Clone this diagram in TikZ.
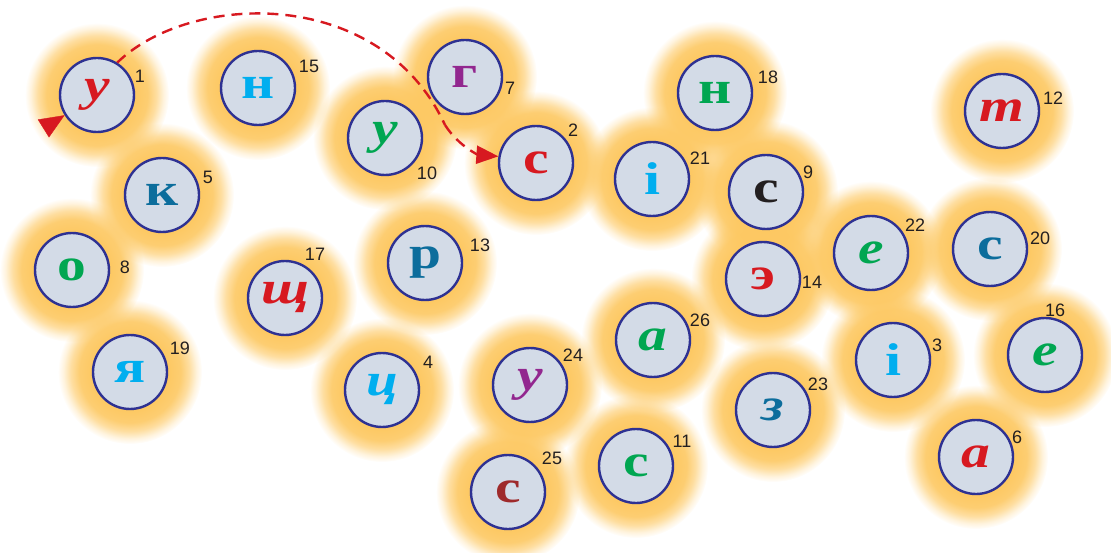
\documentclass[tikz,border=0pt]{standalone}
\usepackage{fontspec}
\setmainfont{Liberation Serif}
\setsansfont{Liberation Sans}
\newfontfamily\letterfont{Liberation Serif}[FakeStretch=1.25]
\usetikzlibrary{arrows.meta,fadings,calc}
\definecolor{lred}{HTML}{D71920}
\definecolor{lcyan}{HTML}{00AEEF}
\definecolor{lpurple}{HTML}{92278F}
\definecolor{lgreen}{HTML}{00A651}
\definecolor{lteal}{HTML}{0C6D9C}
\definecolor{lblack}{HTML}{231F20}
\definecolor{lmaroon}{HTML}{9E2A2B}
\definecolor{glowc}{HTML}{FDC862}
\definecolor{ballfill}{HTML}{D3DBE7}
\definecolor{ballline}{HTML}{2E3192}
\pgfdeclareradialshading{glowsh}{\pgfpointorigin}{color(0bp)=(white); color(13bp)=(white); color(17.5bp)=(white!90!black); color(20.5bp)=(white!60!black); color(23bp)=(white!22!black); color(25bp)=(black); color(50bp)=(black)}
\pgfdeclarefading{glowfade}{\pgfuseshading{glowsh}}
\tikzset{
  ball/.style={circle, minimum size=74pt, inner sep=0pt, fill=ballfill, draw=ballline, line width=2.4pt},
  letup/.style={font=\letterfont\fontsize{46}{46}\selectfont\bfseries},
  letit/.style={font=\letterfont\fontsize{46}{46}\selectfont\bfseries\itshape},
  numlab/.style={font=\sffamily\fontsize{18}{18}\selectfont, text=lblack, inner sep=0pt},
  route/.style={draw=lred, line width=2.4pt, dash pattern=on 11pt off 7pt},
}
\begin{document}
\begin{tikzpicture}[x=1pt,y=-1pt]
\useasboundingbox (0,0) rectangle (1111,553);
\def\balls{1/97/95/140/76/у/lred/letit,
15/258/88/309/66/н/lcyan/letup,
7/465/77/510/88/г/lpurple/letup,
10/385/138/427/173/у/lgreen/letit,
2/536/163/573/130/с/lred/letup,
18/715/93/768/77/н/lgreen/letup,
21/652/179/700/158/і/lcyan/letup,
9/766/192/808/172/с/lblack/letup,
12/1002/111/1053/98/т/lred/letit,
5/162/195/208/177/к/lteal/letup,
8/72/270/125/267/о/lgreen/letup,
22/871/253/915/225/е/lgreen/letit,
20/990/249/1040/238/с/lteal/letup,
14/763/279/812/282/э/lred/letup,
17/285/298/315/254/щ/lred/letit,
13/425/263/480/245/р/lteal/letup,
26/653/340/700/320/а/lgreen/letit,
16/1045/355/1055/310/е/lgreen/letit,
3/893/360/937/345/і/lcyan/letup,
19/130/372/180/348/я/lcyan/letup,
4/382/390/428/362/ц/lcyan/letit,
24/530/385/573/355/у/lpurple/letit,
23/773/410/818/384/з/lteal/letit,
6/976/457/1017/437/а/lred/letit,
25/508/492/552/458/с/lmaroon/letup,
11/636/466/682/441/с/lgreen/letup}
\foreach \n/\x/\y/\lx/\ly/\t/\c/\f in \balls {
  \fill[glowc, path fading=glowfade] (\x,\y) circle (72pt);
}
\foreach \n/\x/\y/\lx/\ly/\t/\c/\f in \balls {
  \node[ball, text=\c, \f] (c\n) at (\x,\y) {\t};
  \node[numlab] (n\n) at (\lx,\ly) {\n};
}
\coordinate (bend) at (445,125);
\draw[route] (c1.58) .. controls (190,-8) and (380,-15) .. (bend);
\draw[route, -{Triangle[length=22pt,width=18pt]}] (bend) .. controls (460,148) and (480,155) .. (c2.170);
\coordinate (s1) at ($(c1.212)+(212:25pt)$);
\draw[draw=lred, fill=lred, line width=0.4pt, -{Triangle[length=25pt,width=21pt]}] (s1) -- (c1.212);
\end{tikzpicture}
\end{document}
